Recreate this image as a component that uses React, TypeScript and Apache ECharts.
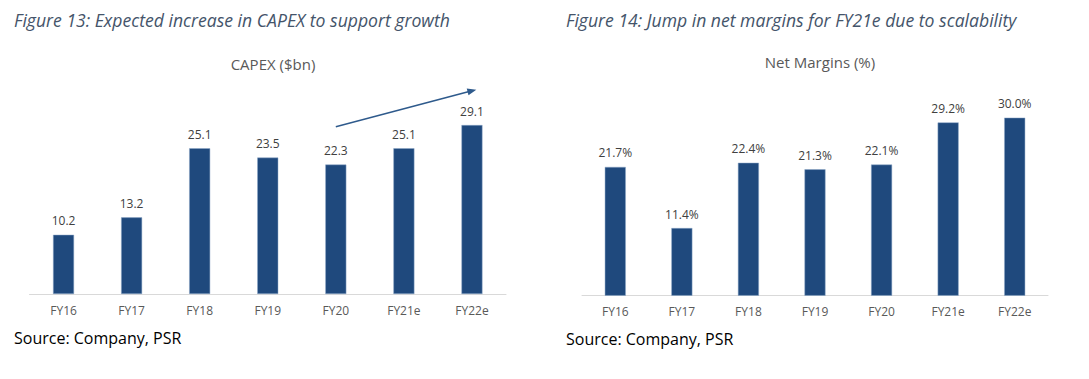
import React, { useEffect, useRef } from "react";
import * as echarts from "echarts";

const categories = ["FY16", "FY17", "FY18", "FY19", "FY20", "FY21e", "FY22e"];
const capexValues = [10.2, 13.2, 25.1, 23.5, 22.3, 25.1, 29.1];
const marginValues = [21.7, 11.4, 22.4, 21.3, 22.1, 29.2, 30.0];
const arrowFrom = [4.24, 28.8];
const arrowTo = [6.27, 35.0];

const BAR = "#1F497D";
const FONT = "'Open Sans', sans-serif";

export default function App() {
  const ref = useRef<HTMLDivElement>(null);
  useEffect(() => {
    const chart = echarts.init(ref.current!, null, { renderer: "svg" });
    const xAxisCommon = {
      type: "category",
      data: categories,
      axisTick: { show: false },
      axisLine: { lineStyle: { color: "#D9D9D9", width: 1 } },
      axisLabel: { color: "#595959", fontSize: 12, fontFamily: FONT, margin: 10 },
    };
    const yAxisCommon = {
      type: "value",
      min: 0,
      show: false,
      splitLine: { show: false },
    };
    const labelCommon = {
      show: true,
      position: "top",
      distance: 8,
      color: "#404040",
      fontSize: 12,
      fontFamily: FONT,
    };
    chart.setOption({
      animation: false,
      title: [
        {
          text: "CAPEX ($bn)",
          left: 268,
          top: 51,
          textAlign: "center",
          textStyle: { color: "#595959", fontSize: 15, fontWeight: "normal", fontFamily: FONT },
        },
        {
          text: "Net Margins (%)",
          left: 815,
          top: 49,
          textAlign: "center",
          textStyle: { color: "#595959", fontSize: 15, fontWeight: "normal", fontFamily: FONT },
        },
      ],
      grid: [
        { left: 29.5, right: 583, top: 85, bottom: 85 },
        { left: 582, right: 41, top: 88, bottom: 83.3 },
      ],
      xAxis: [
        { ...xAxisCommon, gridIndex: 0 },
        { ...xAxisCommon, gridIndex: 1 },
      ],
      yAxis: [
        { ...yAxisCommon, gridIndex: 0, max: 36 },
        { ...yAxisCommon, gridIndex: 1, max: 35 },
      ],
      series: [
        {
          type: "bar",
          xAxisIndex: 0,
          yAxisIndex: 0,
          data: capexValues,
          barWidth: 21,
          itemStyle: { color: BAR, borderColor: "#8EA9C9", borderWidth: 0.5 },
          label: { ...labelCommon, formatter: (p: any) => p.value.toFixed(1) },
          markLine: {
            silent: true,
            symbol: ["none", "triangle"],
            symbolSize: [7, 9],
            label: { show: false },
            lineStyle: { color: "#2E5A8C", width: 1.5, type: "solid" },
            data: [[{ coord: arrowFrom }, { coord: arrowTo }]],
          },
        },
        {
          type: "bar",
          xAxisIndex: 1,
          yAxisIndex: 1,
          data: marginValues,
          barWidth: 21,
          itemStyle: { color: BAR, borderColor: "#8EA9C9", borderWidth: 0.5 },
          label: { ...labelCommon, formatter: (p: any) => p.value.toFixed(1) + "%" },
        },
      ],
      graphic: [
        {
          type: "text",
          left: 14,
          top: 11,
          style: {
            text: "Figure 13: Expected increase in CAPEX to support growth",
            fill: "#44546A",
            font: "italic 17.6px " + FONT,
          },
        },
        {
          type: "text",
          left: 566,
          top: 11,
          style: {
            text: "Figure 14: Jump in net margins for FY21e due to scalability",
            fill: "#44546A",
            font: "italic 17.6px " + FONT,
          },
        },
        {
          type: "text",
          left: 14,
          top: 330,
          style: { text: "Source: Company, PSR", fill: "#000000", font: "16px " + FONT },
        },
        {
          type: "text",
          left: 566,
          top: 331,
          style: { text: "Source: Company, PSR", fill: "#000000", font: "16px " + FONT },
        },
      ],
    });
    return () => chart.dispose();
  }, []);
  return (
    <div
      ref={ref}
      style={{ position: "absolute", left: 0, top: 0, width: 1089, height: 379, background: "#fff" }}
    />
  );
}
